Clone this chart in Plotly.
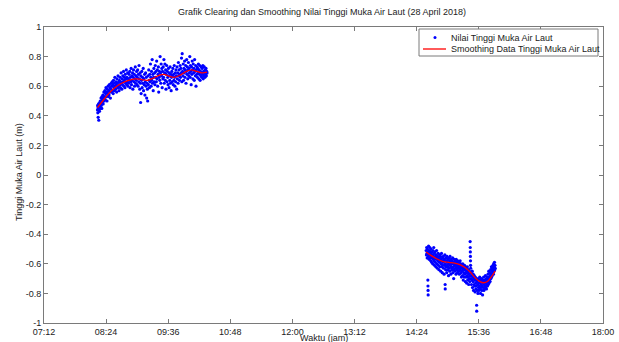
import pandas as pd
import plotly.graph_objects as go

# --- Raw sea-level readings, morning session (minutes after midnight, metres)
t_pagi = [
    494.0, 494.2, 494.4, 494.6, 494.8, 495.0, 495.2, 495.5, 495.7, 496.0, 496.3, 496.6, 496.9, 497.2, 497.5, 497.8, 498.1, 498.4, 498.7, 499.0, 499.3, 499.6, 499.9,
    500.3, 500.6, 501.0, 501.4, 501.8, 502.2, 502.6, 503.0, 503.4, 503.8, 504.2, 504.6, 505.0, 505.4, 505.8, 506.2, 506.6, 507.0, 507.4, 507.8, 508.2, 508.6, 509.0, 509.4, 509.8,
    510.2, 510.6, 511.0, 511.4, 511.8, 512.2, 512.6, 513.0, 513.4, 513.8, 514.2, 514.6, 515.0, 515.4, 515.8, 516.2, 516.6, 517.0, 517.4, 517.8, 518.2, 518.6, 519.0, 519.4, 519.8,
    520.2, 520.6, 521.0, 521.4, 521.8, 522.2, 522.6, 523.0, 523.4, 523.8, 524.2, 524.6, 525.0, 525.4, 525.8, 526.2, 526.6, 527.0, 527.4, 527.8, 528.2, 528.6, 529.0, 529.4, 529.8,
    530.2, 530.6, 531.0, 531.4, 531.8, 532.2, 532.6, 533.0, 533.4, 533.8, 534.2, 534.6, 535.0, 535.4, 535.8, 536.2, 536.6, 537.0, 537.4, 537.8, 538.2, 538.6, 539.0, 539.4, 539.8,
    540.2, 540.6, 541.0, 541.4, 541.8, 542.2, 542.6, 543.0, 543.4, 543.8, 544.0, 544.2, 544.6, 545.0, 545.4, 545.8, 546.2, 546.6, 547.0, 547.4, 547.8, 548.2, 548.6, 549.0, 549.4, 549.8,
    550.2, 550.6, 551.0, 551.4, 551.8, 552.2, 552.6, 553.0, 553.4, 553.8, 554.2, 554.6, 555.0, 555.4, 555.8, 556.2, 556.6, 557.0, 557.4, 557.8, 558.2, 558.6, 559.0, 559.4, 559.8,
    560.2, 560.6, 561.0, 561.4, 561.8, 562.2, 562.6, 563.0, 563.4, 563.8, 564.2, 564.6, 565.0, 565.4, 565.8, 566.2, 566.6, 567.0, 567.4, 567.8, 568.2, 568.6, 569.0, 569.4, 569.8,
    570.2, 570.6, 571.0, 571.4, 571.8, 572.2, 572.6, 573.0, 573.4, 573.8, 574.2, 574.6, 575.0, 575.4, 575.8, 576.2, 576.6, 577.0, 577.4, 577.8, 578.2, 578.6, 579.0, 579.4, 579.8,
    580.2, 580.6, 581.0, 581.4, 581.8, 582.2, 582.6, 583.0, 583.4, 583.8, 584.2, 584.6, 585.0, 585.4, 585.8, 586.2, 586.6, 587.0, 587.4, 587.8, 588.2, 588.6, 589.0, 589.4, 589.8,
    590.2, 590.6, 591.0, 591.4, 591.8, 592.2, 592.6, 593.0, 593.4, 593.8, 594.2, 594.6, 595.0, 595.4, 595.8, 596.2, 596.6, 597.0, 597.4, 597.8, 598.2, 598.6, 599.0, 599.4, 599.8,
    600.2, 600.6, 601.0, 601.4, 601.8, 602.2, 602.6, 603.0, 603.4, 603.8, 604.2, 604.6, 605.0, 605.4, 605.8, 606.2, 606.6, 607.0, 607.4, 607.8, 608.2, 608.6, 609.0, 609.4, 609.8,
    610.2, 610.6, 611.0, 611.4, 611.8, 612.2, 612.6, 613.0, 613.4, 613.8, 614.2, 614.6, 615.0, 615.4, 615.8, 616.2, 616.6, 617.0, 617.4, 617.8, 618.2, 618.6, 619.0, 619.4, 619.8, 620.2, 620.6, 621.0,
]
h_pagi = [
    0.44, 0.47, 0.42, 0.46, 0.39, 0.45, 0.48, 0.37, 0.44, 0.47, 0.43, 0.49, 0.46, 0.50, 0.45, 0.48, 0.52, 0.47, 0.50, 0.45, 0.53, 0.49, 0.51,
    0.54, 0.48, 0.52, 0.56, 0.50, 0.53, 0.57, 0.51, 0.55, 0.59, 0.53, 0.56, 0.50, 0.58, 0.55, 0.60, 0.53, 0.57, 0.54, 0.61, 0.56, 0.59, 0.52, 0.58, 0.62,
    0.56, 0.60, 0.63, 0.57, 0.61, 0.55, 0.64, 0.59, 0.62, 0.57, 0.66, 0.60, 0.58, 0.63, 0.61, 0.56, 0.65, 0.62, 0.59, 0.67, 0.60, 0.63, 0.57, 0.64, 0.61,
    0.66, 0.59, 0.63, 0.69, 0.62, 0.58, 0.65, 0.61, 0.67, 0.63, 0.70, 0.60, 0.64, 0.66, 0.59, 0.68, 0.62, 0.65, 0.71, 0.61, 0.66, 0.63, 0.69, 0.60, 0.65,
    0.62, 0.68, 0.64, 0.70, 0.59, 0.66, 0.63, 0.72, 0.61, 0.67, 0.64, 0.69, 0.58, 0.66, 0.71, 0.63, 0.68, 0.60, 0.65, 0.73, 0.62, 0.67, 0.64, 0.70, 0.61,
    0.66, 0.71, 0.60, 0.68, 0.63, 0.74, 0.65, 0.58, 0.69, 0.62, 0.49, 0.67, 0.55, 0.64, 0.70, 0.59, 0.66, 0.62, 0.72, 0.57, 0.65, 0.61, 0.68, 0.54, 0.63, 0.69,
    0.60, 0.66, 0.52, 0.62, 0.58, 0.50, 0.67, 0.61, 0.71, 0.64, 0.59, 0.68, 0.63, 0.75, 0.66, 0.60, 0.70, 0.64, 0.78, 0.62, 0.68, 0.57, 0.66, 0.72, 0.63,
    0.69, 0.61, 0.74, 0.66, 0.70, 0.63, 0.77, 0.65, 0.71, 0.60, 0.68, 0.73, 0.56, 0.66, 0.70, 0.64, 0.80, 0.69, 0.62, 0.75, 0.67, 0.72, 0.59, 0.70, 0.65,
    0.73, 0.66, 0.78, 0.62, 0.69, 0.75, 0.64, 0.71, 0.58, 0.68, 0.74, 0.63, 0.70, 0.66, 0.61, 0.72, 0.67, 0.59, 0.69, 0.64, 0.73, 0.62, 0.68, 0.57, 0.66,
    0.70, 0.63, 0.67, 0.72, 0.61, 0.68, 0.64, 0.74, 0.66, 0.60, 0.69, 0.63, 0.71, 0.67, 0.58, 0.73, 0.65, 0.69, 0.62, 0.76, 0.67, 0.71, 0.64, 0.68, 0.74,
    0.66, 0.72, 0.69, 0.79, 0.63, 0.82, 0.70, 0.67, 0.75, 0.64, 0.72, 0.69, 0.77, 0.66, 0.71, 0.74, 0.62, 0.70, 0.78, 0.68, 0.73, 0.65, 0.71, 0.76, 0.67,
    0.72, 0.69, 0.80, 0.66, 0.74, 0.70, 0.61, 0.73, 0.68, 0.77, 0.71, 0.65, 0.75, 0.69, 0.72, 0.64, 0.78, 0.70, 0.67, 0.74, 0.60, 0.71, 0.68, 0.73, 0.66,
    0.72, 0.69, 0.75, 0.65, 0.71, 0.68, 0.74, 0.64, 0.70, 0.67, 0.73, 0.69, 0.66, 0.72, 0.68, 0.74, 0.65, 0.70, 0.67, 0.73, 0.69, 0.66, 0.71, 0.68, 0.72, 0.67, 0.70, 0.69,
]

# --- Raw sea-level readings, afternoon session
t_sore = [
    875.0, 875.3, 875.6, 875.9, 876.2, 876.5, 876.8, 877.0, 877.1, 877.2, 877.3, 877.5, 877.8, 878.1, 878.4, 878.7, 879.0, 879.3, 879.6, 879.9, 880.2, 880.5, 880.8, 881.1, 881.4, 881.7, 882.0, 882.3, 882.6, 882.9, 883.2, 883.5, 883.8, 884.1, 884.4, 884.7, 885.0,
    885.3, 885.6, 885.9, 886.2, 886.5, 886.8, 887.1, 887.4, 887.7, 888.0, 888.3, 888.6, 888.9, 889.2, 889.5, 889.8, 890.1, 890.4, 890.7, 891.0, 891.3, 891.6, 891.9, 892.2, 892.5, 892.8, 893.1, 893.4, 893.7, 894.0, 894.3,
    894.6, 894.9, 895.2, 895.5, 895.8, 896.1, 896.4, 896.7, 897.0, 897.1, 897.3, 897.6, 897.9, 898.2, 898.5, 898.8, 899.1, 899.4, 899.7, 900.0, 900.3, 900.6, 900.9, 901.2, 901.5, 901.8, 902.1, 902.4, 902.7, 903.0, 903.3, 903.6, 903.9, 904.2, 904.5,
    904.8, 905.1, 905.4, 905.7, 906.0, 906.3, 906.6, 906.9, 907.2, 907.5, 907.8, 908.1, 908.4, 908.7, 909.0, 909.3, 909.6, 909.9, 910.2, 910.5, 910.8, 911.1, 911.4, 911.7, 912.0, 912.3, 912.6, 912.9, 913.2, 913.5, 913.8, 914.1, 914.4,
    914.7, 915.0, 915.3, 915.6, 915.9, 916.2, 916.5, 916.8, 917.1, 917.4, 917.7, 918.0, 918.3, 918.6, 918.9, 919.2, 919.5, 919.8, 920.1, 920.4, 920.7, 921.0, 921.3, 921.6, 921.9, 922.2, 922.5, 922.8, 923.1, 923.4, 923.7, 924.0, 924.3, 924.6, 924.9, 925.2, 925.5, 925.8,
    926.0, 926.1, 926.2, 926.3, 926.4, 926.5, 926.6,
    926.9, 927.2, 927.5, 927.8, 928.1, 928.4, 928.7, 929.0, 929.3, 929.6, 929.9, 930.2, 930.5, 930.8, 931.1, 931.4, 931.7, 932.0, 932.3, 932.6, 932.9, 933.2, 933.5, 933.6, 933.8, 934.1, 934.4, 934.7, 935.0, 935.3, 935.6, 935.9,
    936.2, 936.5, 936.8, 937.1, 937.4, 937.7, 938.0, 938.3, 938.6, 938.9, 939.2, 939.5, 939.8, 940.1, 940.4, 940.7, 941.0, 941.3, 941.6, 941.9, 942.2, 942.5, 942.8, 943.1, 943.4, 943.7, 944.0, 944.3, 944.6, 944.9, 945.2, 945.5,
    945.8, 946.1, 946.4, 946.7, 947.0, 947.3, 947.6, 947.9, 948.2, 948.5, 948.8, 949.1, 949.4, 949.7, 950.0, 950.3, 950.6, 950.9, 951.2, 951.5, 951.8, 952.1, 952.4, 952.7, 953.0, 953.3, 953.6, 953.9, 954.2, 954.5, 954.8, 955.1,
]
h_sore = [
    -0.51, -0.54, -0.49, -0.53, -0.56, -0.50, -0.52, -0.71, -0.75, -0.78, -0.81, -0.55, -0.48, -0.53, -0.57, -0.51, -0.54, -0.49, -0.56, -0.52, -0.58, -0.53, -0.50, -0.55, -0.59, -0.52, -0.56, -0.54, -0.60, -0.51, -0.57, -0.55, -0.49, -0.58, -0.53, -0.61, -0.56,
    -0.52, -0.59, -0.55, -0.62, -0.54, -0.57, -0.51, -0.60, -0.56, -0.63, -0.55, -0.58, -0.53, -0.61, -0.57, -0.64, -0.56, -0.59, -0.54, -0.62, -0.58, -0.55, -0.65, -0.57, -0.60, -0.53, -0.62, -0.58, -0.66, -0.56, -0.61,
    -0.59, -0.55, -0.63, -0.58, -0.67, -0.57, -0.61, -0.54, -0.74, -0.77, -0.60, -0.64, -0.56, -0.62, -0.58, -0.66, -0.55, -0.61, -0.59, -0.64, -0.57, -0.62, -0.68, -0.56, -0.60, -0.63, -0.58, -0.65, -0.55, -0.61, -0.59, -0.67, -0.57, -0.62, -0.60,
    -0.64, -0.58, -0.63, -0.56, -0.66, -0.60, -0.62, -0.70, -0.59, -0.64, -0.57, -0.61, -0.65, -0.58, -0.63, -0.60, -0.67, -0.57, -0.62, -0.59, -0.64, -0.61, -0.66, -0.58, -0.63, -0.60, -0.65, -0.62, -0.59, -0.67, -0.61, -0.64, -0.58,
    -0.63, -0.60, -0.66, -0.62, -0.69, -0.61, -0.65, -0.63, -0.68, -0.60, -0.64, -0.71, -0.62, -0.66, -0.63, -0.69, -0.61, -0.67, -0.64, -0.72, -0.62, -0.66, -0.69, -0.63, -0.73, -0.65, -0.68, -0.62, -0.71, -0.66, -0.69, -0.64, -0.74, -0.67, -0.70, -0.65, -0.72, -0.68,
    -0.45, -0.49, -0.52, -0.55, -0.58, -0.61, -0.63,
    -0.70, -0.66, -0.74, -0.68, -0.71, -0.65, -0.76, -0.69, -0.72, -0.67, -0.78, -0.70, -0.74, -0.68, -0.75, -0.71, -0.79, -0.69, -0.73, -0.77, -0.70, -0.75, -0.88, -0.92, -0.72, -0.78, -0.71, -0.74, -0.80, -0.70, -0.76, -0.73,
    -0.78, -0.71, -0.75, -0.69, -0.77, -0.73, -0.80, -0.71, -0.76, -0.74, -0.70, -0.78, -0.72, -0.75, -0.81, -0.71, -0.76, -0.73, -0.69, -0.78, -0.74, -0.71, -0.77, -0.72, -0.75, -0.68, -0.76, -0.73, -0.70, -0.77, -0.71, -0.74,
    -0.69, -0.75, -0.72, -0.67, -0.74, -0.70, -0.65, -0.73, -0.69, -0.71, -0.66, -0.72, -0.68, -0.64, -0.70, -0.67, -0.62, -0.69, -0.65, -0.68, -0.63, -0.66, -0.61, -0.64, -0.67, -0.60, -0.65, -0.62, -0.59, -0.64, -0.61, -0.63,
]

# --- Smoothed curve knots for each session
t_smooth_pagi = [494, 500, 507, 514, 522, 530, 538, 545, 552, 559, 566, 571, 576, 583, 590, 597, 603, 609, 615, 621]
h_smooth_pagi = [0.455, 0.50, 0.55, 0.59, 0.62, 0.64, 0.65, 0.645, 0.64, 0.655, 0.675, 0.68, 0.67, 0.66, 0.675, 0.70, 0.71, 0.70, 0.69, 0.695]
t_smooth_sore = [875, 881, 887, 894, 901, 908, 914, 920, 926, 931, 936, 941, 946, 951, 955]
h_smooth_sore = [-0.52, -0.545, -0.566, -0.583, -0.59, -0.595, -0.605, -0.625, -0.655, -0.69, -0.715, -0.728, -0.72, -0.685, -0.65]

# --- Axis ticks and legend entries
x_tick_labels = ["07:12", "08:24", "09:36", "10:48", "12:00", "13:12", "14:24", "15:36", "16:48", "18:00"]
y_tick_values = [-1, -0.8, -0.6, -0.4, -0.2, 0, 0.2, 0.4, 0.6, 0.8, 1]
y_tick_labels = ["-1", "-0.8", "-0.6", "-0.4", "-0.2", "0", "0.2", "0.4", "0.6", "0.8", "1"]
legend_labels = ["Nilai Tinggi Muka Air Laut", "Smoothing Data Tinggi Muka Air Laut"]

BIRU = "#0000ff"
MERAH = "#ff0000"
ABU = "#7a7a7a"
TEKS = "#222222"
FONT = "Liberation Sans, Arial"

# Figure / plot-area geometry in pixels
W, H = 619, 342
PL, PR, PT, PB = 44, 603, 27, 323

TANGGAL = pd.Timestamp("2018-04-28")


def ke_waktu(menit):
    return TANGGAL + pd.to_timedelta(menit, unit="m")


def px(x):
    return (x - PL) / (PR - PL)


def py(y):
    return (PB - y) / (PB - PT)


x_ticks = [TANGGAL + pd.Timedelta(lbl + ":00") for lbl in x_tick_labels]

fig = go.Figure()

fig.add_trace(go.Scatter(
    x=ke_waktu(t_pagi + t_sore), y=h_pagi + h_sore,
    mode="markers", name=legend_labels[0],
    marker=dict(color=BIRU, size=3.2, line=dict(width=0)),
))
for t_s, h_s in ((t_smooth_pagi, h_smooth_pagi), (t_smooth_sore, h_smooth_sore)):
    fig.add_trace(go.Scatter(
        x=ke_waktu(t_s), y=h_s, mode="lines", name=legend_labels[1],
        line=dict(color=MERAH, width=1.3, shape="spline"),
    ))

axis_common = dict(
    showline=True, linecolor=ABU, linewidth=1, mirror="ticks",
    ticks="inside", ticklen=4, tickcolor=ABU,
    showgrid=False, zeroline=False, automargin=False,
    tickfont=dict(family=FONT, size=9, color=TEKS),
)

# Compact boxed legend in the upper-right corner of the axes
LX0, LX1, LY0, LY1 = 419, 598, 29, 56
ROW1, ROW2 = 37.5, 49
shapes = [
    dict(type="rect", xref="paper", yref="paper",
         x0=px(LX0), x1=px(LX1), y0=py(LY1), y1=py(LY0),
         line=dict(color=ABU, width=1), fillcolor="white", layer="above"),
    dict(type="circle", xref="paper", yref="paper",
         x0=px(433.5), x1=px(436.5), y0=py(ROW1 + 1.5), y1=py(ROW1 - 1.5),
         line=dict(width=0), fillcolor=BIRU, layer="above"),
    dict(type="line", xref="paper", yref="paper",
         x0=px(423), x1=px(446), y0=py(ROW2), y1=py(ROW2),
         line=dict(color=MERAH, width=1.3), layer="above"),
]
annotations = [
    dict(text=legend_labels[0], xref="paper", yref="paper", x=px(449), y=py(ROW1),
         xanchor="left", yanchor="middle", showarrow=False,
         font=dict(family=FONT, size=9, color=TEKS)),
    dict(text=legend_labels[1], xref="paper", yref="paper", x=px(449), y=py(ROW2),
         xanchor="left", yanchor="middle", showarrow=False,
         font=dict(family=FONT, size=9, color=TEKS)),
    dict(text="Waktu (jam)", xref="paper", yref="paper", x=0.5, y=py(337.5),
         xanchor="center", yanchor="middle", showarrow=False, borderpad=0,
         font=dict(family=FONT, size=9, color=TEKS)),
    dict(text="Tinggi Muka Air Laut (m)", xref="paper", yref="paper", x=px(19), y=py(172),
         xanchor="center", yanchor="middle", textangle=-90, showarrow=False,
         font=dict(family=FONT, size=9, color=TEKS)),
]

fig.update_layout(
    width=W, height=H,
    margin=dict(l=PL, r=W - PR, t=PT, b=H - PB),
    paper_bgcolor="white", plot_bgcolor="white",
    font=dict(family=FONT, size=9, color=TEKS),
    title=dict(
        text="Grafik Clearing dan Smoothing Nilai Tinggi Muka Air Laut (28 April 2018)",
        x=px(322), xref="paper", y=1 - 12 / H, yref="container",
        xanchor="center", yanchor="middle",
        font=dict(family=FONT, size=9, color=TEKS),
    ),
    xaxis=dict(
        axis_common,
        type="date",
        range=[x_ticks[0], x_ticks[-1]],
        tickvals=x_ticks, ticktext=x_tick_labels,
    ),
    yaxis=dict(
        axis_common,
        range=[-1, 1],
        tickvals=y_tick_values, ticktext=y_tick_labels,
    ),
    showlegend=False,
    shapes=shapes,
    annotations=annotations,
)

fig.write_html("out.html")
